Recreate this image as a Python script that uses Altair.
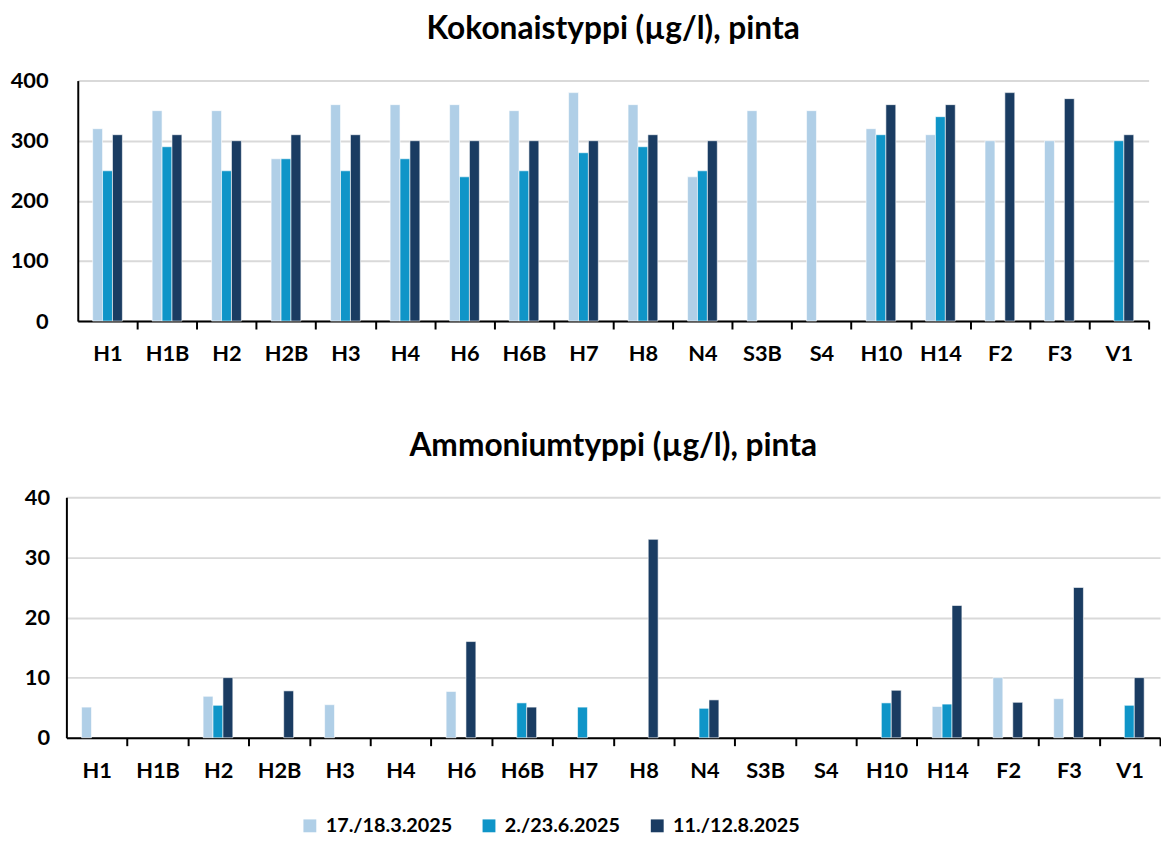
import altair as alt
import pandas as pd

sites = ["H1", "H1B", "H2", "H2B", "H3", "H4", "H6", "H6B", "H7", "H8",
         "N4", "S3B", "S4", "H10", "H14", "F2", "F3", "V1"]
series = ["17./18.3.2025", "2./23.6.2025", "11./12.8.2025"]
colors = ["#b0cfe7", "#0f95c8", "#1a3c62"]

tot_mar = [320, 350, 350, 270, 360, 360, 360, 350, 380, 360, 240, 350, 350, 320, 310, 300, 300, None]
tot_jun = [250, 290, 250, 270, 250, 270, 240, 250, 280, 290, 250, None, None, 310, 340, None, None, 300]
tot_aug = [310, 310, 300, 310, 310, 300, 300, 300, 300, 310, 300, None, None, 360, 360, 380, 370, 310]

amm_mar = [5.1, None, 6.9, None, 5.5, None, 7.7, None, None, None, None, None, None, None, 5.2, 10, 6.5, None]
amm_jun = [None, None, 5.4, None, None, None, None, 5.8, 5.1, None, 4.9, None, None, 5.8, 5.6, None, None, 5.4]
amm_aug = [None, None, 10, 7.8, None, None, 16, 5.1, None, 33, 6.3, None, None, 7.9, 22, 5.9, 25, 10]

FONT = "Lato"


def long_df(cols):
    rows = []
    for s, vals in zip(series, cols):
        for site, v in zip(sites, vals):
            if v is not None:
                rows.append({"site": site, "series": s, "value": v})
    return pd.DataFrame(rows)


legend = alt.Legend(title=None, orient="none", legendX=236, legendY=322,
                    direction="horizontal",
                    symbolType="square", symbolSize=169, symbolStrokeWidth=0,
                    labelFontSize=20, labelFont=FONT, labelFontWeight="bold",
                    labelColor="black", columnPadding=27, labelOffset=6)


def panel(cols, title, ymax, yvals, width, ylabpad, leg):
    df = long_df(cols)
    half = width / len(sites) / 2
    enc = dict(
        x=alt.X("site:N", sort=sites,
                scale=alt.Scale(domain=sites, paddingInner=0.5, paddingOuter=0.25),
                axis=alt.Axis(title=None, labelAngle=0,
                              ticks=True, tickSize=8, tickWidth=2, tickColor="black",
                              tickOffset=half, labelOffset=-half,
                              domainColor="black", domainWidth=2,
                              labelPadding=15, labelFontSize=22, labelFont=FONT,
                              labelFontWeight="bold", labelColor="black", grid=False)),
        xOffset=alt.XOffset("series:N", sort=series,
                            scale=alt.Scale(domain=series, paddingInner=0, paddingOuter=0)),
        y=alt.Y("value:Q", scale=alt.Scale(domain=[0, ymax], nice=False),
                axis=alt.Axis(title=None, values=yvals, ticks=False,
                              domainColor="black", domainWidth=2,
                              gridColor="#d9d9d9", gridWidth=2,
                              labelPadding=ylabpad, labelFontSize=22, labelFont=FONT,
                              labelFontWeight="bold", labelColor="black")),
        color=alt.Color("series:N", sort=series,
                        scale=alt.Scale(domain=series, range=colors),
                        legend=leg),
    )
    return alt.Chart(df).mark_bar(stroke="white", strokeWidth=0.6).encode(**enc).properties(
        width=width, height=243,
        title=alt.TitleParams(title, fontSize=32, font=FONT, fontWeight="bold",
                              color="black", anchor="middle", offset=24),
    )


top = panel([tot_mar, tot_jun, tot_aug], "Kokonaistyppi (µg/l), pinta", 400,
            [0, 100, 200, 300, 400], 1082, 30, None)
bottom = panel([amm_mar, amm_jun, amm_aug], "Ammoniumtyppi (µg/l), pinta", 40,
               [0, 10, 20, 30, 40], 1105, 17, legend)

chart = alt.concat(top, bottom, columns=1, spacing=66, center=True).resolve_legend(
    color="independent"
).configure_view(
    stroke=None
).properties(padding={"left": 2, "right": 0, "top": 1, "bottom": 5})

chart.save("out.html", embed_options={"renderer": "svg", "actions": False})
